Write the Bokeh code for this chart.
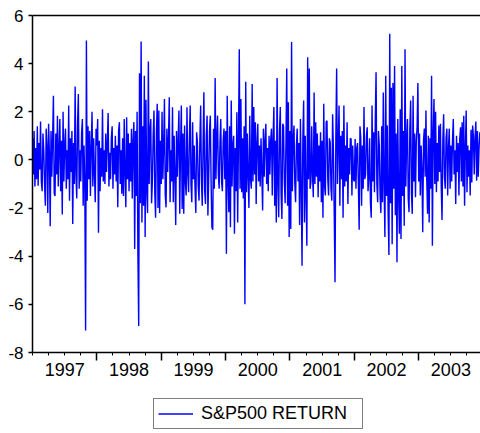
from bokeh.plotting import figure
from bokeh.layouts import column
from bokeh.models import Range1d, FixedTicker, LinearAxis, Legend, LegendItem
from bokeh.embed import file_html
from bokeh.resources import INLINE

years = [1997, 1998, 1999, 2000, 2001, 2002, 2003]
r1997 = [0.9, -0.6, 1.2, -1.1, 0.5, -0.8, 1.4, -1.07, 0.7, -0.4,
         1.6, -0.9, -1.3, 1.1, 0.4, -1.0, -1.9, 1.3, 0.6, -2.2,
         1.5, 0.3, -2.76, 1.2, -0.7, 0.9, 2.67, -1.4, -1.5, 1.1,
         -0.6, 1.84, -1.1, 0.5, 1.7, -1.3, 0.8, -2.27, 2.0, -0.9,
         0.6, 1.3, -1.2, 0.4, -0.8, 2.26, -1.7, 0.9, -0.5, 1.2,
         -2.66, 0.7, -1.0, 3.05, -0.6, -1.6, 1.5, 2.74, -1.2, 0.4,
         -0.9, 1.1, 1.7, -1.9, 0.6, -1.0, -7.09, 4.96, -1.7, 1.4,
         -0.8, 1.2, -1.5, 0.5, 2.0, -1.1, 0.9, -0.6, -1.76, 1.3]
r1998 = [0.6, 1.7, -3.03, 0.8, -1.3, 0.5, -0.7, 2.1, -0.9, 0.4,
         -1.0, 1.1, -0.5, 0.7, 1.95, -1.1, 0.3, -0.8, 0.9, 1.4,
         -1.2, 0.5, -0.6, 1.0, -0.9, 0.6, -1.97, 1.2, 1.57, -1.0,
         0.4, -1.4, 0.9, -1.5, 1.7, -0.6, -1.97, 1.77, -0.8, 1.1,
         -1.3, 0.7, -0.9, 1.3, -1.6, 0.8, 1.57, -3.7, 1.2, -1.5,
         2.0, -3.9, -6.9, 3.6, -1.8, 4.92, -2.6, 1.4, -1.9, 3.5,
         -3.2, 2.5, -1.3, -2.2, 4.09, -1.0, 1.2, 1.7, -1.8, -0.9,
         1.0, 2.05, -1.4, -2.4, 1.1, 2.33, -2.0, 2.05, -2.2, 0.8]
r1999 = [-1.0, 2.0, -0.8, 0.6, 2.53, -1.48, -1.97, 1.3, -0.5, 0.9,
         2.6, -1.76, 0.4, -0.9, 2.19, -1.76, 1.0, -0.6, -2.7, 1.2,
         -0.7, 0.8, 2.05, -2.24, 0.5, 2.26, -2.04, 1.1, -2.24, 1.43,
         -0.9, -1.48, 2.19, -0.6, -1.34, 0.9, 2.26, -1.0, -1.76, 1.57,
         -0.8, 0.6, -1.2, -2.2, 1.15, 0.7, -1.1, -1.69, 0.8, 2.26,
         -0.9, -1.9, 0.6, 2.81, -1.3, -1.83, 1.0, 1.84, -2.31, -0.7,
         1.2, 1.84, -1.0, -2.8, -2.9, 1.3, -1.2, 3.4, -0.8, 0.9,
         1.84, -0.6, -1.2, 0.7, 1.7, -0.9, -1.3, 0.8, 1.3, -0.8]
r2000 = [1.2, -3.9, 2.67, -0.8, -2.17, 1.4, -2.8, 2.47, -1.1, 0.6,
         1.0, -3.07, 0.5, -1.3, 1.98, -2.6, 0.8, 4.6, -1.2, 2.53,
         -1.34, 0.9, -1.6, 1.4, -6.0, 3.25, -1.34, 1.1, -0.7, -2.0,
         1.84, -0.8, -1.2, 3.15, -0.9, 2.2, -0.6, 1.57, -1.83, 0.7,
         1.5, -0.9, 0.6, -1.1, 0.9, -0.5, -2.1, 1.3, -0.7, 0.8,
         1.5, -1.0, 0.5, -1.3, 1.0, -0.6, 0.8, 1.3, -1.48, 0.9,
         2.2, -1.9, 0.8, -2.6, 3.4, -1.0, -2.38, 1.2, 2.2, -1.4,
         -2.45, 1.5, 1.4, -0.9, -1.8, 0.7, 3.8, -1.9, 2.4, -3.2]
r2001 = [1.2, -2.87, 4.9, -1.3, 0.8, 1.43, -1.0, -1.76, 0.6, 1.3,
         -0.9, 0.7, -2.7, 1.7, -1.1, -4.4, 0.9, 2.47, -2.6, 1.0,
         -1.5, -3.56, 4.27, -0.8, 3.8, -1.2, -0.93, 1.4, -0.6, -1.55,
         2.8, -1.0, 1.57, -0.7, 1.1, -1.55, 0.6, -0.9, 1.15, -1.76,
         0.8, -2.4, 2.33, -1.1, -1.48, 1.57, 1.63, -0.8, -1.48, 0.9,
         0.73, -1.2, -1.69, 1.9, 0.4, -2.2, -5.08, 0.9, 3.8, -1.0,
         0.7, 2.26, -1.9, 1.0, -0.8, 1.2, -2.4, 2.26, -1.1, 0.6,
         -0.9, 1.57, -1.83, 0.5, -0.6, 0.9, 0.87, -1.48, 0.6, -0.8]
r2002 = [-0.9, 0.87, -1.2, 0.5, 0.7, -1.0, -2.9, 1.4, 0.9, -1.9,
         0.6, -1.2, 2.2, -0.8, -0.6, 1.0, 1.36, -1.3, -0.7, 0.9,
         -1.76, -2.4, 2.26, -0.9, 1.15, -1.34, 1.6, 3.64, -1.0, -1.76,
         1.2, 0.6, -1.5, -2.2, 1.4, -1.76, 2.8, -1.0, -3.2, 3.5,
         -1.5, 1.43, -2.24, -3.95, 5.24, -1.8, 3.0, -3.5, 3.2, -1.2,
         3.9, -2.3, 1.1, -4.25, 1.7, -1.4, -3.07, 2.1, -3.28, 3.9,
         -1.5, 1.2, -2.73, 4.6, -1.1, 0.8, 1.7, -1.6, -2.17, 1.3,
         2.47, -1.4, -2.24, 2.67, -0.9, 1.1, -1.55, 0.8, 1.36, 3.2]
r2003 = [-0.9, 1.1, -1.48, 0.6, -0.4, -3.0, 0.8, 1.3, -0.7, 2.05,
         -0.8, -2.24, 1.0, -2.6, 0.9, -1.2, 3.5, -3.56, 1.1, 2.53,
         -1.0, 2.0, -1.34, 0.7, -0.9, 1.43, -0.5, 1.5, -1.1, -2.5,
         0.8, 1.9, -0.7, -1.2, 0.9, 1.3, -1.48, 0.5, 1.3, -1.2,
         0.6, -0.9, 0.8, 1.7, -0.6, 0.4, -1.83, 1.0, -0.5, 0.7,
         -1.48, 0.87, 1.36, -0.9, 1.57, -1.1, 1.84, -1.9, 0.5, 2.05,
         -1.34, 0.6, -0.7, 0.4, -1.48, 1.25, -0.94, 1.43, 1.0, -0.6,
         0.9, 1.6, -0.86, 1.2, -0.7, 0.5, 1.15]
series = [r1997, r1998, r1999, r2000, r2001, r2002, r2003]
per_year = 80
series_name = "S&P500 RETURN"

y_ticks = [-8, -6, -4, -2, 0, 2, 4, 6]
year_bounds = [1998, 1999, 2000, 2001, 2002, 2003]
year_labels = ["1997", "1998", "1999", "2000", "2001", "2002", "2003"]

xs, ys = [], []
for yr, vals in zip(years, series):
    for i, v in enumerate(vals):
        xs.append(yr + i / per_year)
        ys.append(v)

FONT = "Liberation Sans"
BLUE = "#0000ff"

p = figure(width=480, height=385, output_backend="svg", toolbar_location=None,
           x_range=Range1d(1997.0, 2003.96), y_range=Range1d(-8, 6),
           x_axis_type=None, y_axis_type=None,
           min_border_left=32, min_border_right=0, min_border_top=15,
           min_border_bottom=33)
p.outline_line_color = None
p.background_fill_color = "white"
p.border_fill_color = "white"

r = p.line(xs, ys, line_color=BLUE, line_width=1.4)

# left axis
yax = LinearAxis(ticker=FixedTicker(ticks=y_ticks, minor_ticks=[]))
yax.major_label_overrides = {t: str(t) for t in y_ticks}
yax.major_tick_in = 0
yax.major_tick_out = 4
yax.minor_tick_out = 0
yax.minor_tick_in = 0
yax.axis_line_width = 1.5
yax.major_tick_line_width = 1.5
yax.major_label_text_font = FONT
yax.major_label_text_font_size = "17px"
yax.major_label_text_color = "black"
yax.major_label_standoff = 5
p.add_layout(yax, "left")

# top frame line
tax = LinearAxis(ticker=FixedTicker(ticks=[], minor_ticks=[]))
tax.major_tick_out = 0
tax.major_tick_in = 0
tax.minor_tick_out = 0
tax.major_label_standoff = 0
tax.major_label_text_font_size = "0px"
tax.axis_line_width = 1.5
p.add_layout(tax, "above")

# bottom axis with year boundary ticks and quarter minor ticks
quarters = [years[0] + k / 4 for k in range(0, 28)]
bax = LinearAxis(ticker=FixedTicker(ticks=year_bounds, minor_ticks=quarters))
bax.major_label_overrides = {t: "" for t in year_bounds}
bax.major_tick_in = 0
bax.major_tick_out = 8
bax.minor_tick_in = 0
bax.minor_tick_out = 3
bax.axis_line_width = 1.5
bax.major_tick_line_width = 1.5
bax.minor_tick_line_width = 1
bax.major_label_text_font_size = "0px"
bax.major_label_standoff = 0
p.add_layout(bax, "below")

# year labels centred on each year
mids = [y + 0.5 for y in years]
lax = LinearAxis(ticker=FixedTicker(ticks=mids, minor_ticks=[]))
lax.major_label_overrides = {m: lab for m, lab in zip(mids, year_labels)}
lax.axis_line_color = None
lax.major_tick_line_color = None
lax.minor_tick_line_color = None
lax.major_tick_out = 0
lax.major_tick_in = 0
lax.major_label_standoff = 2
lax.major_label_text_font = FONT
lax.major_label_text_font_size = "18px"
lax.major_label_text_color = "black"
p.add_layout(lax, "below")

# legend strip under the chart (frame fills the strip, legend placed inside)
q = figure(width=480, height=48, output_backend="svg", toolbar_location=None,
           x_range=Range1d(0, 1), y_range=Range1d(0, 1),
           x_axis_type=None, y_axis_type=None,
           min_border_left=32, min_border_right=0, min_border_top=0,
           min_border_bottom=0)
q.outline_line_color = None
q.background_fill_color = "white"
q.border_fill_color = "white"
# legend proxy line lies outside the visible range of the strip
rl = q.line([2, 3], [2, 2], line_color=BLUE, line_width=1.4)

legend = Legend(items=[LegendItem(label=series_name, renderers=[rl])],
                location=(121, 4))
legend.border_line_color = "black"
legend.border_line_width = 1
legend.background_fill_color = "white"
legend.background_fill_alpha = 1
legend.padding = 4
legend.margin = 0
legend.spacing = 0
legend.glyph_width = 35
legend.glyph_height = 21
legend.label_height = 21
legend.label_width = 157
legend.label_standoff = 8
legend.label_text_font = FONT
legend.label_text_font_size = "18px"
legend.label_text_color = "black"
q.add_layout(legend, "center")

layout = column(p, q, spacing=0)
open("out.html", "w").write(file_html(layout, INLINE))
